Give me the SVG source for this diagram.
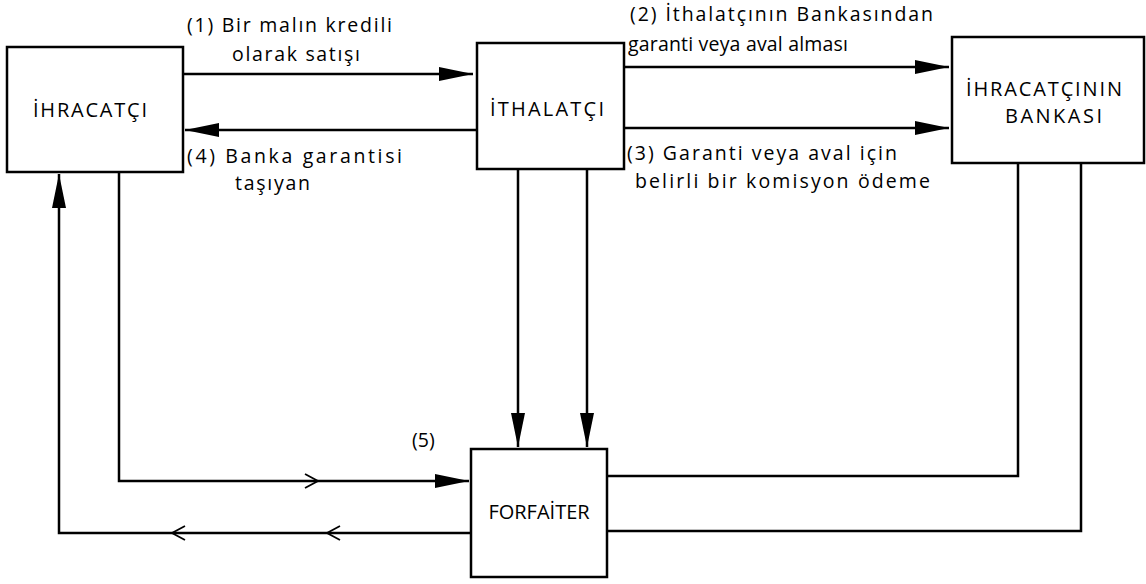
<svg xmlns="http://www.w3.org/2000/svg" width="1146" height="584" viewBox="0 0 1146 584">
<style>
.box{fill:#fff;stroke:#000;stroke-width:2.5}
.ln{fill:none;stroke:#000;stroke-width:2.5}
.chev{fill:none;stroke:#000;stroke-width:1.8}
.nt{font-family:"Open Sans","Liberation Sans",sans-serif;font-size:20px;fill:#000;font-variant-ligatures:none}
.et{font-family:"Open Sans","Liberation Sans",sans-serif;font-size:19.5px;fill:#000;font-variant-ligatures:none}
</style>
<defs>
<marker id="arr" markerUnits="userSpaceOnUse" markerWidth="34" markerHeight="16" refX="34" refY="8" orient="auto" viewBox="0 0 34 16">
<path d="M0,1 L34,8 L0,15 z" fill="#000"/>
</marker>
</defs>
<rect width="1146" height="584" fill="#fff"/>
<g id="connectors">
<path class="ln" d="M183,74 L473,74" marker-end="url(#arr)"/>
<path class="ln" d="M477,130 L185,130" marker-end="url(#arr)"/>
<path class="ln" d="M624,67 L949,67" marker-end="url(#arr)"/>
<path class="ln" d="M624,128 L949,128" marker-end="url(#arr)"/>
<path class="ln" d="M518,169 L518,447" marker-end="url(#arr)"/>
<path class="ln" d="M587,169 L587,447" marker-end="url(#arr)"/>
<path class="ln" d="M119,172 L119,481 L469,481" marker-end="url(#arr)"/>
<path class="chev" d="M305,474 L318,481 L305,488"/>
<path class="ln" d="M471,533 L59,533 L59,174" marker-end="url(#arr)"/>
<path class="chev" d="M185,526 L172,533 L185,540"/>
<path class="chev" d="M340,526 L327,533 L340,540"/>
<path class="ln" d="M607,476 L1018,476 L1018,163"/>
<path class="ln" d="M607,531 L1081,531 L1081,163"/>
<text class="et" x="187" y="32" textLength="205" lengthAdjust="spacing">(1) Bir malın kredili</text>
<text class="et" x="232" y="61" textLength="128" lengthAdjust="spacing">olarak satışı</text>
<text class="et" x="630" y="21" textLength="303" lengthAdjust="spacing">(2) İthalatçının Bankasından</text>
<text class="et" x="628" y="51" textLength="220" lengthAdjust="spacing">garanti veya aval alması</text>
<text class="et" x="627" y="160" textLength="270" lengthAdjust="spacing">(3) Garanti veya aval için</text>
<text class="et" x="635" y="188" textLength="295" lengthAdjust="spacing">belirli bir komisyon ödeme</text>
<text class="et" x="187" y="163" textLength="215" lengthAdjust="spacing">(4) Banka garantisi</text>
<text class="et" x="235" y="190" textLength="75" lengthAdjust="spacing">taşıyan</text>
<text class="et" x="412" y="447">(5)</text>
</g>
<g id="ihracatci">
<rect class="box" x="7" y="47" width="176" height="125"/>
<text class="nt" x="33" y="117" textLength="114" lengthAdjust="spacing">İHRACATÇI</text>
</g>
<g id="ithalatci">
<rect class="box" x="477" y="43" width="147" height="126"/>
<text class="nt" x="490" y="116" textLength="114" lengthAdjust="spacing">İTHALATÇI</text>
</g>
<g id="banka">
<rect class="box" x="952" y="37" width="192" height="126"/>
<text class="nt" x="966" y="96" textLength="156" lengthAdjust="spacing">İHRACATÇININ</text>
<text class="nt" x="1005" y="123" textLength="97" lengthAdjust="spacing">BANKASI</text>
</g>
<g id="forfaiter">
<rect class="box" x="471" y="449" width="136" height="128"/>
<text class="nt" x="539" y="519" text-anchor="middle">FORFAİTER</text>
</g>
</svg>
